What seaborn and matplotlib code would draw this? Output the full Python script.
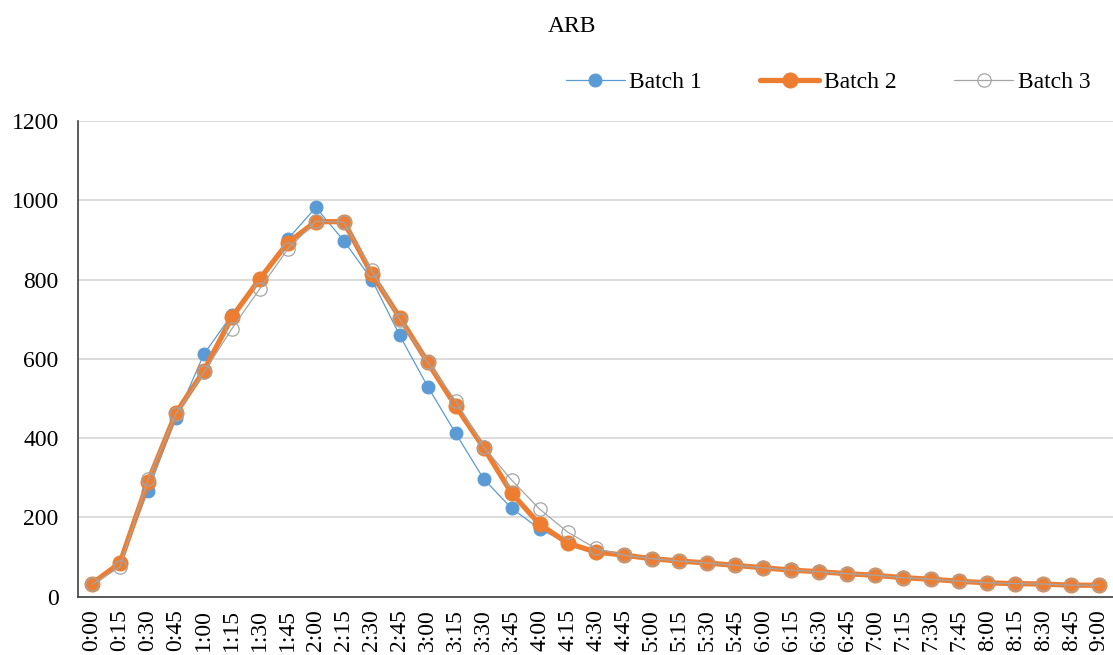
import numpy as np
import pandas as pd
import matplotlib
matplotlib.use('Agg')
import matplotlib.pyplot as plt
import seaborn as sns

# time labels every 15 min from 0:00 to 9:00
TIMES = ['0:00','0:15','0:30','0:45','1:00','1:15','1:30','1:45','2:00','2:15',
         '2:30','2:45','3:00','3:15','3:30','3:45','4:00','4:15','4:30','4:45',
         '5:00','5:15','5:30','5:45','6:00','6:15','6:30','6:45','7:00','7:15',
         '7:30','7:45','8:00','8:15','8:30','8:45','9:00']

batch1 = [33, 84, 267, 450, 612, 711, 802, 902, 982, 898,
          800, 659, 530, 412, 297, 223, 171, 135, 112, 104,
          96, 90, 86, 80, 74, 69, 65, 60, 55, 50,
          45, 40, 35, 33, 32, 29, 29]
batch2 = [33, 85, 290, 463, 570, 705, 802, 893, 946, 946,
          814, 704, 591, 481, 376, 261, 183, 135, 113, 105,
          96, 90, 85, 79, 73, 67, 63, 58, 54, 48,
          44, 39, 35, 33, 32, 29, 29]
batch3 = [31, 75, 296, 461, 566, 676, 777, 877, 947, 945,
          823, 699, 591, 494, 378, 294, 221, 163, 122, 105,
          96, 90, 85, 79, 73, 67, 63, 58, 54, 48,
          44, 39, 35, 33, 32, 29, 29]

df = pd.DataFrame({'idx': np.arange(len(TIMES)), 'time': TIMES,
                   'Batch 1': batch1, 'Batch 2': batch2, 'Batch 3': batch3})

sns.set_style('white')
plt.rcParams['font.family'] = ['Liberation Serif', 'DejaVu Serif']
plt.rcParams['text.color'] = 'black'
plt.rcParams['xtick.color'] = 'black'
plt.rcParams['ytick.color'] = 'black'

FS = 17

fig = plt.figure(figsize=(11.13, 6.55), dpi=100)
ax = fig.add_axes([0.0701, 0.089, 0.93, 0.7263])

sns.lineplot(data=df, x='idx', y='Batch 1', ax=ax, color='#5B9BD5', lw=0.9,
             marker='o', markersize=9.3, markeredgecolor='#5B9BD5',
             sort=False, label='Batch 1')
sns.lineplot(data=df, x='idx', y='Batch 2', ax=ax, color='#ED7D31', lw=3.8,
             marker='o', markersize=10.8, markeredgecolor='#ED7D31',
             sort=False, label='Batch 2')
sns.lineplot(data=df, x='idx', y='Batch 3', ax=ax, color='#A5A5A5', lw=0.9,
             marker='o', markersize=9.6, markerfacecolor='none',
             markeredgecolor='#A5A5A5', markeredgewidth=0.9,
             sort=False, label='Batch 3')

ax.set_xlim(-0.5, len(TIMES) - 0.5)
ax.set_ylim(0, 1200)
ax.set_yticks(range(0, 1201, 200))
ax.set_xticks(df['idx'])
ax.set_xticklabels(TIMES, rotation=90, fontsize=FS)
ax.tick_params(axis='y', labelsize=FS, length=0, pad=14)
ax.tick_params(axis='x', length=0, pad=9)
ax.set_xlabel('')
ax.set_ylabel('')
ax.grid(axis='y', color='#d9d9d9', lw=1.3)
ax.set_axisbelow(True)
for s in ['top', 'right']:
    ax.spines[s].set_visible(False)
ax.spines['left'].set_color('#404040')
ax.spines['bottom'].set_color('#404040')
ax.spines['left'].set_linewidth(1.2)
ax.spines['bottom'].set_linewidth(1.2)

ax.get_legend().remove()
handles, labels = ax.get_legend_handles_labels()
fig.legend(handles, labels, ncol=3, loc='center right',
           bbox_to_anchor=(0.999, 0.874), frameon=False, fontsize=FS,
           handlelength=2.5, columnspacing=2.45, handletextpad=0.2)

fig.text(0.514, 0.959, 'ARB', ha='center', va='center', fontsize=FS)

fig.savefig('out.png', dpi=100)
